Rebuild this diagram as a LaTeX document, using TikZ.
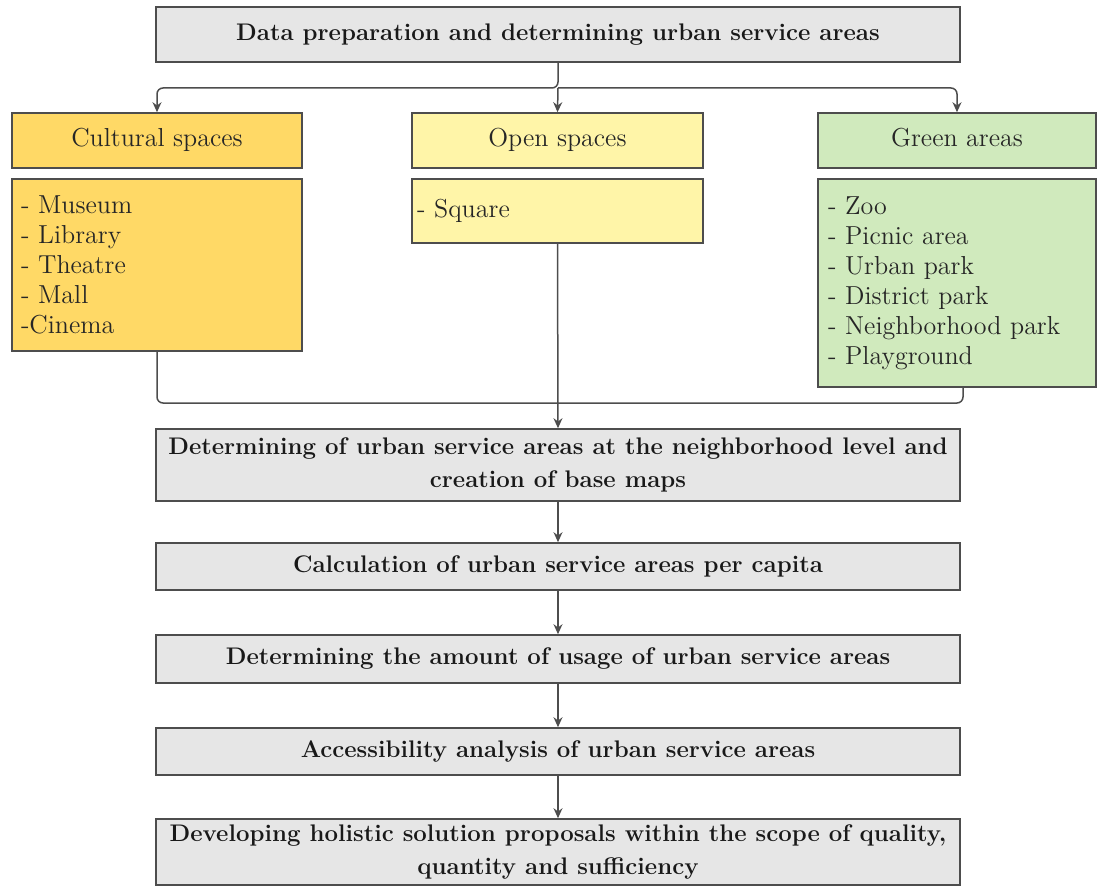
\documentclass[tikz,border=0pt]{standalone}
\usepackage{tikz}
\usetikzlibrary{arrows.meta}
\definecolor{boxgray}{HTML}{E6E6E6}
\definecolor{linegray}{HTML}{4D4D4D}
\definecolor{culture}{HTML}{FFD966}
\definecolor{openyel}{HTML}{FFF5A8}
\definecolor{greenar}{HTML}{D0EABD}

\begin{document}
\begin{tikzpicture}[x=0.5pt, y=-0.5pt,
  stage/.style={draw=linegray, line width=0.8pt, fill=boxgray, minimum width=402pt,
    inner sep=0pt, align=center, text=black!90,
    font=\bfseries\fontsize{12}{16.5}\selectfont},
  head/.style={draw=linegray, line width=0.8pt, minimum height=27.5pt, inner sep=0pt,
    text height=0.7em, text depth=0.12em,
    text=black!85, font=\fontsize{13}{15}\selectfont},
  items/.style={draw=linegray, line width=0.8pt, align=left, inner ysep=0pt,
    text=black!85, font=\fontsize{13}{15}\selectfont},
  flow/.style={draw=linegray, line width=0.75pt, rounded corners=3pt,
    -{Stealth[length=5pt,width=4.5pt]}}]
\useasboundingbox (0,0) rectangle (1099,888);
% Top
\node[stage, minimum height=27.5pt] (prep) at (558,34.5) {Data preparation and determining urban service areas};
% Categories
\node[head, fill=culture, minimum width=145pt] (cultH) at (157,140.5) {Cultural spaces};
\node[head, fill=openyel, minimum width=145.5pt] (openH) at (557.5,140.5) {Open spaces};
\node[head, fill=greenar, minimum width=139pt] (greenH) at (957,140.5) {Green areas};
% Lists
\node[items, fill=culture, inner xsep=4.5pt, text width=136pt, minimum height=86pt] (cultL) at (157,265)
  {- Museum\\- Library\\- Theatre\\- Mall\\-Cinema};
\node[items, fill=openyel, inner xsep=2.5pt, text width=140.5pt, minimum height=32pt] (openL) at (557.5,211)
  {- Square};
\node[items, fill=greenar, inner xsep=5pt, text width=129pt, minimum height=104pt] (greenL) at (957,283)
  {- Zoo\\- Picnic area\\- Urban park\\- District park\\- Neighborhood park\\- Playground};
% Steps
\node[stage, minimum height=36pt] (mapB) at (558,465)
  {Determining of urban service areas at the neighborhood level and\\creation of base maps};
\node[stage, minimum height=23.5pt] (capB) at (558,566.5) {Calculation of urban service areas per capita};
\node[stage, minimum height=24pt] (useB) at (558,659) {Determining the amount of usage of urban service areas};
\node[stage, minimum height=23.5pt] (accB) at (558,751.5) {Accessibility analysis of urban service areas};
\node[stage, minimum height=33pt] (solB) at (558,852)
  {Developing holistic solution proposals within the scope of quality,\\quantity and sufficiency};
% Branching
\coordinate (split) at (558,88);
\draw[flow] (prep.south) -- (split) -| (cultH.north);
\draw[flow] (split) -| (greenH.north);
\draw[flow] (split) -- (openH.north);
% Merging
\coordinate (merge) at (558,403);
\draw[flow, -] (cultL.south) |- (merge);
\draw[flow, -] ([xshift=3pt]greenL.south) |- (merge);
\draw[flow] (openL.south) -- (mapB.north);
% Chain
\draw[flow] (mapB) -- (capB);
\draw[flow] (capB) -- (useB);
\draw[flow] (useB) -- (accB);
\draw[flow] (accB) -- (solB);
\end{tikzpicture}
\end{document}
